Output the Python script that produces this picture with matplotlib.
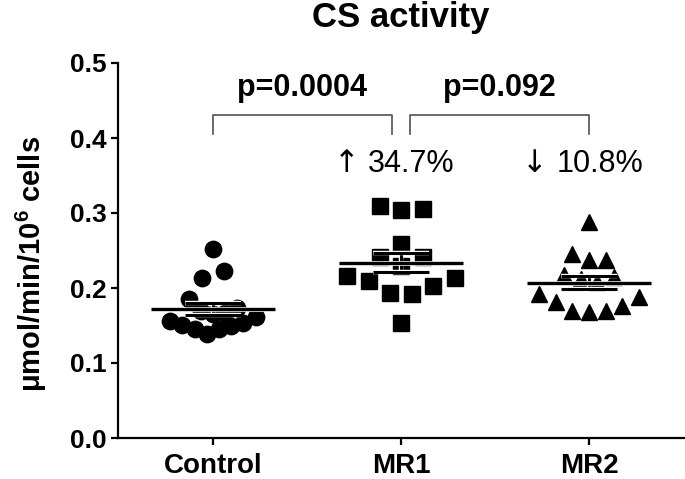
import numpy as np
import matplotlib
matplotlib.use("Agg")
import matplotlib.pyplot as plt
import matplotlib.patheffects as pe

plt.rcParams['font.family'] = ['Liberation Sans', 'DejaVu Sans']
plt.rcParams['mathtext.fontset'] = 'custom'
plt.rcParams['mathtext.rm'] = 'Liberation Sans:bold'
plt.rcParams['mathtext.default'] = 'rm'

# ---- data ----
categories = ["Control", "MR1", "MR2"]
control = [0.252, 0.223, 0.2135, 0.185, 0.173, 0.170, 0.167, 0.165, 0.161,
           0.156, 0.154, 0.151, 0.150, 0.146, 0.146, 0.139]
mr1 = [0.309, 0.3035, 0.306, 0.259, 0.241, 0.241, 0.229,
       0.2166, 0.214, 0.210, 0.203, 0.194, 0.192, 0.154]
mr2 = [0.288, 0.245, 0.237, 0.237, 0.217, 0.215, 0.212, 0.208, 0.192,
       0.188, 0.181, 0.176, 0.170, 0.170, 0.168]
groups = [control, mr1, mr2]
markers = ["o", "s", "^"]
yticks = [0.0, 0.1, 0.2, 0.3, 0.4, 0.5]
pvalues = ["p=0.0004", "p=0.092"]
brackets = [(0, 0.95), (1.05, 2.0)]
changes = ["\u2191 34.7%", "\u2193 10.8%"]
title = "CS activity"
ylabel = "\u03bcmol/min/10$^{6}$ cells"

W, H = 685, 479
fig = plt.figure(figsize=(W / 100, H / 100), dpi=100)
ax = fig.add_axes([118 / W, (H - 438) / H, 566 / W, 375 / H])
ax.set_xlim(-0.505, 2.505)
ax.set_ylim(0, 0.5)

for s in ["top", "right"]:
    ax.spines[s].set_visible(False)
for s in ["left", "bottom"]:
    ax.spines[s].set_linewidth(1.6)

ax.set_yticks(yticks)
ax.set_yticklabels([f"{v:.1f}" for v in yticks], fontsize=19, fontweight="bold")
ax.set_xticks(range(len(categories)))
ax.set_xticklabels(categories, fontsize=20, fontweight="bold")
ax.tick_params(axis="both", direction="out", length=5, width=1.6)
ax.tick_params(axis="y", pad=3)
ax.tick_params(axis="x", pad=6)

px_per_x = ax.transData.transform([1, 0])[0] - ax.transData.transform([0, 0])[0]


def row_layout(values, center, spacing_px, bin_h, even_first):
    """Prism-like scatter layout: points grouped in rows, spread sideways."""
    values = np.asarray(values)
    order = np.argsort(values, kind="stable")
    rows, cur, start = [], [], None
    for i in order:
        if start is None or values[i] - start > bin_h:
            if cur:
                rows.append(cur)
            cur, start = [i], values[i]
        else:
            cur.append(i)
    rows.append(cur)
    xs = np.full(len(values), float(center))
    for row in rows:
        n = len(row)
        step = spacing_px if n > 2 else max(spacing_px, 22.0)
        slots = []
        if n % 2:
            slots.append(0.0)
            k = 1
            while len(slots) < n:
                slots += [k, -k]
                k += 1
        else:
            k = 0
            while len(slots) < n:
                slots += [even_first * (k + 0.5), -even_first * (k + 0.5)]
                k += 1
        for j, idx in enumerate(row):
            xs[idx] = center + slots[j] * step / px_per_x
    return xs


spacing = [12.2, 21.5, 16.7]
even_first = [-1, 1, 1]
halo = [pe.withStroke(linewidth=3.2, foreground="white")]
for i, (vals, m) in enumerate(zip(groups, markers)):
    vals = np.array(vals)
    xs = row_layout(vals, i, spacing[i], 0.025, even_first[i])
    ax.plot(xs, vals, linestyle="none", marker=m, markersize=11.8,
            color="black", markeredgecolor="black", zorder=2)
    mean = vals.mean()
    sem = vals.std(ddof=1) / np.sqrt(len(vals))
    ax.vlines(i, mean - sem, mean + sem, color="black", lw=2.2, zorder=3,
              path_effects=halo)
    ax.hlines([mean - sem, mean + sem], i - 0.15, i + 0.15, color="black", lw=2.2,
              zorder=3, path_effects=halo)
    ax.hlines(mean, i - 0.33, i + 0.33, color="black", lw=2.4, zorder=4,
              path_effects=[pe.withStroke(linewidth=3.4, foreground="white")])

# significance brackets
for (x0, x1), p in zip(brackets, pvalues):
    ax.plot([x0, x0, x1, x1], [0.406, 0.4305, 0.4305, 0.406], color="#505050",
            lw=1.2, clip_on=False)
    ax.text((x0 + x1) / 2, 0.456, p, ha="center", va="baseline",
            fontsize=22, fontweight="bold")

for i, t in enumerate(changes):
    arrow, number = t.split(" ", 1)
    ax.text(i + 1 - 0.29, 0.354, arrow, ha="center", va="baseline", fontsize=22,
            family=["DejaVu Sans"])
    ax.text(i + 1 - 0.175, 0.354, number, ha="left", va="baseline", fontsize=22,
            family=["Liberation Sans", "DejaVu Sans"])

fig.text(401 / W, 1 - 27 / H, title, ha="center", va="baseline",
         fontsize=25, fontweight="bold")
fig.text(31 / W, 1 - 264 / H, ylabel, ha="center", va="center", rotation=90,
         fontsize=21, fontweight="bold")

fig.savefig("out.png", dpi=100)
